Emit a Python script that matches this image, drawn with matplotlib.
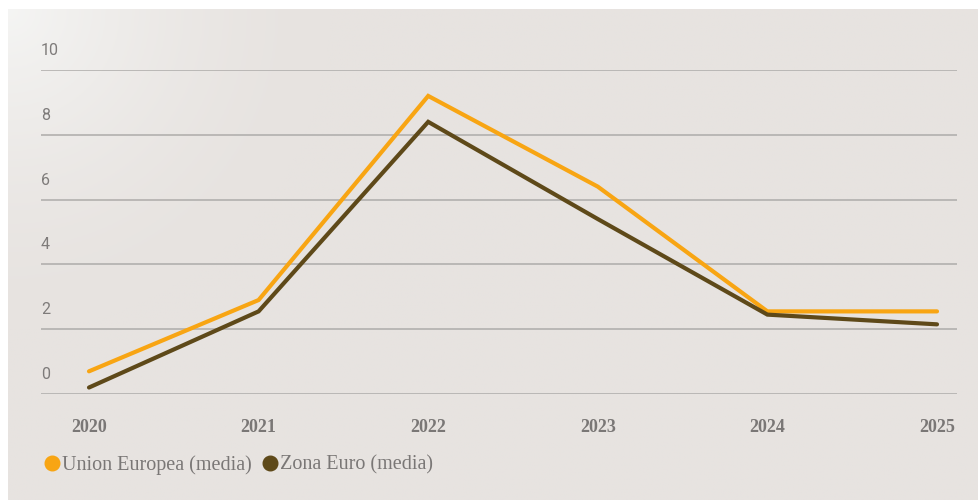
import numpy as np
import matplotlib
matplotlib.use('Agg')
import matplotlib.pyplot as plt
from matplotlib.lines import Line2D

# Data
years = [2020, 2021, 2022, 2023, 2024, 2025]
ue_media = [0.7, 2.9, 9.2, 6.4, 2.55, 2.55]
zona_euro = [0.2, 2.55, 8.4, 5.4, 2.45, 2.15]
series_names = ['Union Europea (media)', 'Zona Euro (media)']
y_ticks = [0, 2, 4, 6, 8, 10]

ORANGE = '#f8a513'
BROWN = '#5e4919'
BG = np.array([231, 227, 224]) / 255.0
GREY_TXT = '#7a7776'

W, H = 979, 500
fig = plt.figure(figsize=(W / 100, H / 100), dpi=100)
fig.patch.set_facecolor('white')

# Background panel with a soft light glow in the top-left corner
bg_ax = fig.add_axes([8 / W, 0, 1 - 8 / W, (H - 9) / H])
bg_ax.set_axis_off()
gx, gy = np.meshgrid(np.linspace(0, 1, 400), np.linspace(0, 1, 200))
dist = np.sqrt((gx * 971 / 320) ** 2 + (gy * 491 / 320) ** 2)
glow = np.clip(1 - dist, 0, 1) ** 1.6
img = BG[None, None, :] * (1 - glow[..., None]) + np.array([0.96, 0.96, 0.955]) * glow[..., None]
bg_ax.imshow(img, aspect='auto', extent=[0, 1, 1, 0])

# Main plot area
left, right = 41, 957
y0, y10 = 394, 70
ax = fig.add_axes([left / W, (H - y0) / H, (right - left) / W, (y0 - y10) / H])
ax.patch.set_alpha(0)
px_per_year = (937 - 89) / 5
ax.set_xlim(2020 - (89 - left) / px_per_year, 2025 + (right - 937) / px_per_year)
ax.set_ylim(0, 10)

for t in y_ticks:
    ax.axhline(t, color='#b2b0ae', lw=1.2, zorder=1)
    ax.annotate(str(t), xy=(0, t), xycoords=('axes fraction', 'data'),
                xytext=(0, 12), textcoords='offset pixels',
                ha='left', va='bottom', fontsize=11.5, color='#7e7b7a',
                family='Roboto')

ax.plot(years, ue_media, color=ORANGE, lw=3, solid_capstyle='round',
        solid_joinstyle='miter', zorder=3, clip_on=False)
ax.plot(years, zona_euro, color=BROWN, lw=3, solid_capstyle='round',
        solid_joinstyle='miter', zorder=4, clip_on=False)

ax.set_xticks(years)
ax.set_xticklabels([str(y) for y in years], family='Liberation Serif',
                   fontweight='bold', fontsize=13, color=GREY_TXT)
ax.tick_params(axis='x', length=0, pad=18)
ax.set_yticks([])
for s in ax.spines.values():
    s.set_visible(False)

handles = [Line2D([], [], marker='o', color=c, lw=0, markersize=10.5)
           for c in (ORANGE, BROWN)]
leg = fig.legend(handles, series_names, loc='center left',
                 bbox_to_anchor=(38 / W, (H - 465) / H), ncol=2,
                 frameon=False, handlelength=0.6, handletextpad=0.2,
                 columnspacing=0.6, borderaxespad=0,
                 prop={'family': 'Liberation Serif', 'size': 14.5})
for t in leg.get_texts():
    t.set_color(GREY_TXT)

fig.savefig('out.png', dpi=100)
